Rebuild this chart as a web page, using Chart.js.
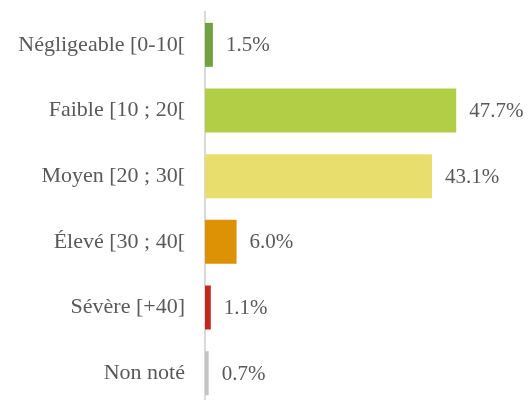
<!DOCTYPE html>
<html>
<head>
<meta charset="utf-8">
<script src="https://cdn.jsdelivr.net/npm/chart.js@4"></script>
<style>
  html, body { margin: 0; padding: 0; background: #fff; overflow: hidden; }
  canvas { display: block; }
</style>
</head>
<body>
<canvas id="chart" width="531" height="406"></canvas>
<script>
// Daten aus der Grafik
let categories = ['Négligeable [0-10[', 'Faible [10 ; 20[', 'Moyen [20 ; 30[', 'Élevé [30 ; 40[', 'Sévère [+40]', 'Non noté'];
let values = [1.5, 47.7, 43.1, 6.0, 1.1, 0.7];
let barColors = ['#70a33f', '#b2cd46', '#e8de6e', '#dc9204', '#c1291f', '#c4c4c4'];

let fontFamily = '"Liberation Serif", "DejaVu Serif", serif';
let textColor = '#595959';
let fontSize = 22;

// Beschriftung rechts neben den Balken
const valueLabels = {
    id: 'valueLabels',
    afterDatasetsDraw(chart) {
        const ctx = chart.ctx;
        const meta = chart.getDatasetMeta(0);
        ctx.save();
        ctx.font = '21px ' + fontFamily;
        ctx.fillStyle = textColor;
        ctx.textAlign = 'left';
        ctx.textBaseline = 'middle';
        meta.data.forEach((bar, i) => {
            ctx.fillText(values[i].toFixed(1) + '%', bar.x + 13, bar.y + 1);
        });
        ctx.restore();
    }
};

new Chart(document.getElementById('chart'), {
    type: 'bar',
    data: {
        labels: categories,
        datasets: [{
            data: values,
            backgroundColor: barColors,
            barPercentage: 0.67,
            categoryPercentage: 1
        }]
    },
    options: {
        indexAxis: 'y',
        responsive: false,
        animation: false,
        layout: { padding: { top: 12, right: 10, bottom: 0, left: 0 } },
        plugins: {
            legend: { display: false },
            tooltip: { enabled: false }
        },
        scales: {
            x: {
                display: false,
                min: 0,
                max: 60
            },
            y: {
                afterFit(scale) {
                    scale.width = 205;
                    scale.paddingTop = 0;
                    scale.paddingBottom = 0;
                },
                grid: { display: false, drawTicks: false },
                border: { display: true, color: '#d9d9d9', width: 2 },
                ticks: {
                    padding: 20,
                    color: textColor,
                    font: { family: fontFamily, size: fontSize }
                }
            }
        }
    },
    plugins: [valueLabels]
});
</script>
</body>
</html>
